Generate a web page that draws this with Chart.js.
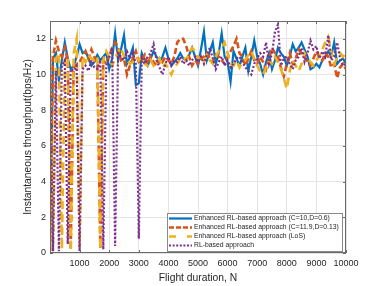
<!DOCTYPE html>
<html>
<head>
<meta charset="utf-8">
<script src="https://cdn.jsdelivr.net/npm/chart.js@4/dist/chart.umd.min.js"></script>
<style>
html,body{margin:0;padding:0;background:#fff;}
#wrap{width:382px;height:286px;position:relative;}
</style>
</head>
<body>
<div id="wrap"><canvas id="c" width="382" height="286"></canvas></div>
<script>
// Flight duration samples (every 100 steps, 0..10000)
const flightN = Array.from({length: 101}, (_, i) => i * 100);

const yTicks = [0, 2, 4, 6, 8, 10, 12];
const xTicks = [1000, 2000, 3000, 4000, 5000, 6000, 7000, 8000, 9000, 10000];

const seriesNames = [
  'Enhanced RL-based approach (C=10,D=0.6)',
  'Enhanced RL-based approach (C=11.9,D=0.13)',
  'Enhanced RL-based approach (LoS)',
  'RL-based approach'
];

const blueVals = [
  0.2, 10.9, 11.2, 9.7, 10.8, 11.8, 10.9, 10.3, 10.5, 11.0,
  11.7, 11.2, 11.3, 10.9, 10.5, 10.7, 11.1, 10.8, 11.0, 11.2,
  10.3, 10.9, 12.3, 10.8, 11.4, 12.2, 10.6, 11.0, 11.5, 9.4,
  9.5, 11.2, 10.8, 10.5, 10.9, 11.3, 11.0, 10.7, 11.0, 11.5,
  10.9, 10.5, 10.7, 10.9, 11.2, 10.9, 10.8, 11.1, 11.5, 11.0,
  10.5, 11.4, 12.4, 10.8, 11.3, 11.8, 10.6, 11.2, 12.3, 11.0,
  10.7, 9.6, 11.3, 10.9, 10.5, 11.0, 11.5, 10.2, 11.0, 11.9,
  11.0, 10.6, 10.0, 10.7, 11.2, 10.3, 10.8, 11.5, 11.2, 11.0,
  10.5, 11.0, 11.7, 11.3, 11.5, 11.8, 11.4, 11.0, 10.3, 10.4,
  10.6, 10.4, 10.8, 11.0, 11.3, 11.0, 11.8, 10.6, 10.8, 10.9,
  10.6
];

const orangeVals = [
  0.1, 11.0, 11.9, 11.3, 11.0, 11.5, 10.8, 0.2, 10.4, 10.6,
  10.7, 11.0, 11.3, 10.9, 11.4, 11.0, 10.5, 0.3, 10.8, 10.6,
  11.0, 11.5, 11.8, 11.5, 10.8, 10.9, 10.0, 10.5, 10.9, 11.3,
  10.7, 10.8, 11.1, 10.6, 11.0, 10.7, 10.5, 10.9, 10.7, 11.0,
  10.8, 10.6, 11.0, 11.8, 12.0, 12.0, 11.6, 11.0, 10.5, 10.8,
  10.6, 10.9, 11.0, 11.2, 10.9, 10.7, 11.1, 11.0, 10.8, 10.6,
  11.0, 11.3, 11.6, 12.0, 11.2, 11.0, 10.5, 10.9, 11.3, 10.8,
  10.6, 11.0, 10.7, 10.3, 10.9, 11.5, 11.2, 11.0, 10.4, 9.9,
  10.6, 11.2, 10.6, 10.9, 11.4, 11.2, 11.0, 10.7, 10.5, 10.9,
  11.3, 11.0, 10.8, 11.2, 11.0, 10.4, 10.6, 9.8, 10.4, 10.6,
  10.3
];

const yellowVals = [
  11.4, 0.1, 10.9, 11.2, 0.2, 10.8, 11.0, 0.1, 11.2, 12.0,
  0.3, 11.0, 10.7, 11.1, 10.9, 10.8, 11.0, 0.2, 10.8, 11.3,
  11.0, 10.5, 10.9, 11.3, 11.5, 11.0, 10.8, 10.6, 10.7, 11.0,
  10.8, 11.0, 10.6, 10.5, 10.8, 10.5, 10.7, 10.9, 10.4, 10.6,
  10.3, 10.0, 10.4, 10.6, 10.9, 11.0, 10.8, 11.2, 11.5, 11.3,
  10.9, 11.0, 10.7, 11.1, 10.8, 10.6, 11.0, 11.3, 11.5, 11.8,
  11.2, 10.6, 10.5, 10.8, 10.4, 10.7, 10.8, 11.1, 11.3, 10.9,
  10.5, 10.2, 10.0, 10.4, 10.8, 10.6, 11.0, 10.7, 10.3, 9.8,
  9.2, 10.2, 10.8, 10.5, 10.2, 10.6, 11.2, 10.9, 10.7, 10.5,
  10.8, 11.0, 11.4, 11.8, 12.1, 11.3, 10.6, 10.9, 11.2, 11.0,
  11.2
];

const purpleVals = [
  11.3, 0.1, 10.2, 0.1, 10.5, 10.8, 0.5, 10.3, 10.2, 10.5,
  0.1, 10.3, 10.5, 10.2, 10.8, 10.4, 10.3, 10.8, 0.2, 10.5,
  11.0, 11.5, 0.4, 11.2, 11.0, 10.8, 11.3, 10.9, 11.2, 10.6,
  0.8, 10.9, 10.6, 11.0, 11.2, 11.7, 10.8, 10.4, 10.0, 10.6,
  11.0, 10.5, 10.8, 10.7, 11.0, 10.6, 10.8, 10.5, 10.8, 11.0,
  10.7, 11.0, 10.6, 11.1, 11.5, 10.9, 10.3, 10.7, 11.0, 10.5,
  10.8, 10.4, 10.6, 10.9, 11.0, 10.7, 10.4, 10.2, 10.0, 10.6,
  10.9, 11.2, 11.0, 11.8, 10.6, 11.2, 12.4, 12.8, 10.5, 10.9,
  11.0, 10.6, 10.3, 10.8, 11.0, 11.5, 10.7, 11.2, 11.9, 11.4,
  11.6, 10.9, 11.3, 11.0, 12.2, 10.8, 11.0, 11.8, 10.9, 10.5,
  10.6
];

const FONT = "'Liberation Sans', Arial, Helvetica, sans-serif";
const TXT = '#262626';

const styles = [
  {color: '#0072BD', width: 2.2, dash: [], order: 3},
  {color: '#D95319', width: 2.6, dash: [6, 3], order: 2},
  {color: '#EDB120', width: 2.6, dash: [8, 5], order: 1},
  {color: '#7E2F8E', width: 2.2, dash: [2, 2], order: 0}
];
const allVals = [blueVals, orangeVals, yellowVals, purpleVals];

const datasets = allVals.map((vals, k) => ({
  label: seriesNames[k],
  data: vals.map((v, i) => ({x: flightN[i], y: v})),
  borderColor: styles[k].color,
  backgroundColor: styles[k].color,
  borderWidth: styles[k].width,
  borderDash: styles[k].dash,
  pointRadius: 0,
  tension: 0,
  fill: false,
  order: styles[k].order
}));

const framePlugin = {
  id: 'frame',
  afterDatasetsDraw(chart) {
    const {ctx, chartArea: a, scales} = chart;
    ctx.save();
    ctx.strokeStyle = '#6a6a6a';
    ctx.lineWidth = 1;
    ctx.setLineDash([]);
    ctx.strokeRect(a.left + 0.5, a.top + 0.5, a.right - a.left - 1, a.bottom - a.top - 1);
    // inward ticks
    ctx.beginPath();
    xTicks.forEach(v => {
      const x = Math.round(scales.x.getPixelForValue(v)) + 0.5;
      ctx.moveTo(x, a.bottom); ctx.lineTo(x, a.bottom - 3);
      ctx.moveTo(x, a.top); ctx.lineTo(x, a.top + 3);
    });
    yTicks.forEach(v => {
      const y = Math.round(scales.y.getPixelForValue(v)) + 0.5;
      ctx.moveTo(a.left, y); ctx.lineTo(a.left + 3, y);
      ctx.moveTo(a.right, y); ctx.lineTo(a.right - 3, y);
    });
    ctx.stroke();

    // legend
    const bx = 167, by = 213, bw = 175, bh = 38;
    ctx.fillStyle = '#fff';
    ctx.fillRect(bx, by, bw, bh);
    ctx.strokeStyle = '#8a8a8a';
    ctx.strokeRect(bx + 0.5, by + 0.5, bw, bh);
    // fit text so the first entry spans ~143px like the reference
    let fs = 7.3;
    ctx.font = fs + 'px ' + FONT;
    const w0 = ctx.measureText(seriesNames[1]).width;
    fs = fs * 145 / w0;
    ctx.font = fs.toFixed(2) + 'px ' + FONT;
    ctx.textBaseline = 'middle';
    ctx.textAlign = 'left';
    const legDash = [[], [5, 2], [7, 11], [2, 1.6]];
    seriesNames.forEach((name, k) => {
      const y = by + 5.5 + k * 9;
      ctx.beginPath();
      ctx.strokeStyle = styles[k].color;
      ctx.lineWidth = styles[k].width;
      ctx.setLineDash(legDash[k]);
      ctx.moveTo(169, y); ctx.lineTo(192, y);
      ctx.stroke();
      ctx.setLineDash([]);
      ctx.fillStyle = TXT;
      ctx.fillText(name, 194, y);
    });
    ctx.restore();
  }
};

new Chart(document.getElementById('c'), {
  type: 'line',
  data: {datasets},
  plugins: [framePlugin],
  options: {
    responsive: false,
    animation: false,
    events: [],
    layout: {padding: {left: 22, right: 36, top: 21, bottom: 0}},
    plugins: {legend: {display: false}, tooltip: {enabled: false}},
    scales: {
      x: {
        type: 'linear', min: 0, max: 10000,
        afterBuildTicks(s) { s.ticks = xTicks.map(v => ({value: v})); },
        afterFit(s) { s.height = 33; },
        grid: {color: '#e4e4e4', drawTicks: false, lineWidth: 1},
        border: {display: false},
        ticks: {color: TXT, font: {family: FONT, size: 9}, padding: 5, maxRotation: 0, autoSkip: false,
                callback: v => String(v)},
        title: {display: true, text: 'Flight duration, N', color: TXT, font: {family: FONT, size: 10.3}, padding: {top: 0, bottom: 2}}
      },
      y: {
        type: 'linear', min: 0, max: 13,
        afterBuildTicks(s) { s.ticks = yTicks.map(v => ({value: v})); },
        afterFit(s) { s.width = 28; },
        grid: {color: '#e4e4e4', drawTicks: false, lineWidth: 1},
        border: {display: false},
        ticks: {color: TXT, font: {family: FONT, size: 9}, padding: 4, callback: v => String(v)},
        title: {display: true, text: 'Instantaneous throughput(bps/Hz)', color: TXT, font: {family: FONT, size: 10.3}, padding: {top: 0, bottom: 2}}
      }
    }
  }
});
</script>
</body>
</html>
